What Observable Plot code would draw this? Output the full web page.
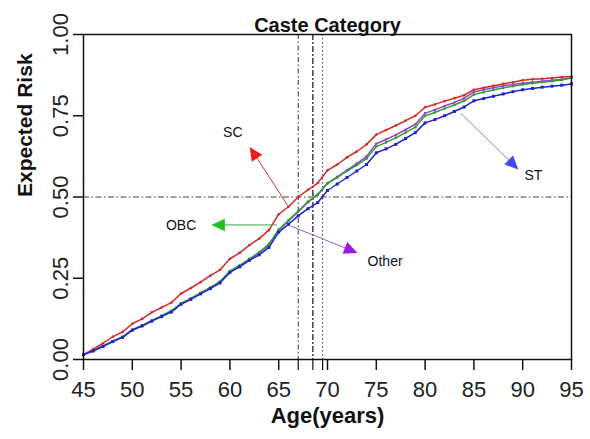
<!DOCTYPE html>
<html>
<head>
<meta charset="utf-8">
<script src="https://cdn.jsdelivr.net/npm/d3@7"></script>
<script src="https://cdn.jsdelivr.net/npm/@observablehq/plot@0.6"></script>
<style>
  body { margin: 0; background: #fff; }
</style>
</head>
<body>
<div id="chart"></div>
<script>
// Expected cumulative risk by age, one curve per caste category
const ages = d3.range(45, 96);
const sc = [0.015, 0.032, 0.050, 0.070, 0.085, 0.110, 0.125, 0.145, 0.160, 0.175,
            0.203, 0.220, 0.238, 0.258, 0.276, 0.310, 0.328, 0.352, 0.372, 0.398,
            0.447, 0.470, 0.500, 0.522, 0.543, 0.582, 0.600, 0.622, 0.640, 0.662,
            0.692, 0.706, 0.720, 0.735, 0.750, 0.776, 0.785, 0.795, 0.804, 0.813,
            0.830, 0.836, 0.842, 0.848, 0.853, 0.859, 0.862, 0.864, 0.866, 0.869, 0.871];
const obc = [0.015, 0.028, 0.042, 0.057, 0.070, 0.092, 0.105, 0.120, 0.135, 0.150,
             0.173, 0.188, 0.205, 0.222, 0.240, 0.272, 0.290, 0.310, 0.330, 0.355,
             0.400, 0.428, 0.457, 0.486, 0.508, 0.542, 0.560, 0.580, 0.598, 0.618,
             0.655, 0.668, 0.682, 0.698, 0.715, 0.750, 0.760, 0.772, 0.783, 0.796,
             0.815, 0.822, 0.829, 0.836, 0.841, 0.846, 0.850, 0.853, 0.856, 0.860, 0.866];
const other = [0.015, 0.027, 0.041, 0.056, 0.069, 0.091, 0.104, 0.119, 0.134, 0.149,
               0.172, 0.187, 0.204, 0.221, 0.239, 0.271, 0.288, 0.308, 0.328, 0.352,
               0.398, 0.426, 0.455, 0.484, 0.507, 0.543, 0.562, 0.583, 0.603, 0.625,
               0.664, 0.677, 0.691, 0.707, 0.724, 0.758, 0.768, 0.780, 0.791, 0.804,
               0.823, 0.830, 0.836, 0.842, 0.846, 0.850, 0.853, 0.856, 0.859, 0.862, 0.867];
const st = [0.015, 0.026, 0.040, 0.055, 0.068, 0.090, 0.103, 0.118, 0.132, 0.146,
            0.170, 0.185, 0.202, 0.218, 0.236, 0.268, 0.285, 0.305, 0.322, 0.345,
            0.392, 0.416, 0.442, 0.464, 0.483, 0.520, 0.540, 0.560, 0.580, 0.600,
            0.636, 0.648, 0.662, 0.680, 0.698, 0.728, 0.738, 0.750, 0.763, 0.777,
            0.796, 0.803, 0.810, 0.817, 0.824, 0.830, 0.834, 0.838, 0.841, 0.844, 0.848];

// Ages at which the curves reach a risk of 0.5
const crossAges = [67, 68.5, 69.5];
const crossDash = ["5,2.5,1.5,2.5", "6,2,2,2", "1.5,2.5"];
const crossWidth = [1, 1.4, 1];
const halfRisk = 0.5;

const xTicks = [45, 50, 55, 60, 65, 70, 75, 80, 85, 90, 95];
const yTicks = [0, 0.25, 0.5, 0.75, 1];

// Arrow annotations pointing from each curve to its name
const arrowNames = ["SC", "OBC", "Other", "ST"];
const arrowFrom = [[65.92, 0.474], [64.84, 0.414], [66.2, 0.411], [83.64, 0.758]];
const arrowTo = [[62.03, 0.654], [58.10, 0.414], [73.07, 0.328], [89.55, 0.585]];
const labelAt = [[60.3, 0.698], [55.0, 0.413], [75.9, 0.300], [91.1, 0.566]];

const seriesNames = ["Other", "OBC", "SC", "ST"];
const seriesValues = [other, obc, sc, st];
const lineColor = {SC: "#d42a2a", OBC: "#2e9e36", Other: "#9a42c8", ST: "#2222cc"};
const shaftColor = {SC: "#b83c3c", OBC: "#3aa53a", Other: "#a25cc8", ST: "#8a8ab0"};
const headColor = {SC: "#ee1c1c", OBC: "#1fc21f", Other: "#a016e6", ST: "#4646f2"};

const W = 590, H = 439, ML = 83, MR = 19, MT = 34, MB = 80;
const xs = Plot.scale({x: {domain: [45, 95], range: [ML, W - MR]}});
const ys = Plot.scale({y: {domain: [0, 1], range: [H - MB, MT]}});

const rows = seriesNames.flatMap((name, i) =>
  ages.map((age, j) => ({name, age, risk: seriesValues[i][j]})));

// Arrowheads: a narrow filled triangle with its tip 9px ahead of the origin
const TIP = 9;
const head = {
  draw(ctx) {
    ctx.moveTo(0, -TIP);
    ctx.lineTo(6.3, 4.5);
    ctx.lineTo(-6.3, 4.5);
    ctx.closePath();
  }
};
const arrows = arrowNames.map((name, i) => {
  const [x1, y1] = arrowFrom[i];
  const [x2, y2] = arrowTo[i];
  const px1 = xs.apply(x1), py1 = ys.apply(y1);
  const px2 = xs.apply(x2), py2 = ys.apply(y2);
  const len = Math.hypot(px2 - px1, py2 - py1);
  const ux = (px2 - px1) / len, uy = (py2 - py1) / len;
  const hx = px2 - ux * TIP, hy = py2 - uy * TIP;
  return {
    name, x1, y1,
    x2: xs.invert(hx), y2: ys.invert(hy),
    rotate: Math.atan2(uy, ux) * 180 / Math.PI + 90,
    lx: labelAt[i][0], ly: labelAt[i][1]
  };
});

const font = "'Liberation Sans', Arial, sans-serif";

const chart = Plot.plot({
  width: W,
  height: H,
  marginLeft: ML,
  marginRight: MR,
  marginTop: MT,
  marginBottom: MB,
  style: {fontFamily: font, background: "#fff", color: "#1a1a1a", overflow: "visible"},
  x: {domain: [45, 95]},
  y: {domain: [0, 1]},
  marks: [
    // reference lines at risk 0.5 and the ages where it is reached
    Plot.ruleY([halfRisk], {stroke: "#444", strokeWidth: 1.1, strokeDasharray: "6,2.5,1.5,2.5"}),
    ...crossAges.map((a, i) => Plot.ruleX([a], {
      stroke: "#333", strokeWidth: crossWidth[i], strokeDasharray: crossDash[i]
    })),

    // curves with a marker at every year
    Plot.line(rows, {x: "age", y: "risk", z: "name", stroke: d => lineColor[d.name], strokeWidth: 1.5}),
    Plot.dot(rows.filter(d => d.name !== "ST"), {x: "age", y: "risk", r: 1.3, fill: d => lineColor[d.name], stroke: "none"}),
    Plot.dot(rows.filter(d => d.name === "ST"), {x: "age", y: "risk", symbol: "square", r: 1.7, fill: lineColor.ST, stroke: "none"}),

    // annotations
    Plot.link(arrows, {x1: "x1", y1: "y1", x2: "x2", y2: "y2", stroke: d => shaftColor[d.name], strokeWidth: 1}),
    Plot.dot(arrows, {x: "x2", y: "y2", symbol: head, r: 5, rotate: "rotate", fill: d => headColor[d.name], stroke: "none"}),
    Plot.text(arrows, {x: "lx", y: "ly", text: "name", fontSize: 14, fill: "#111"}),

    // axes
    Plot.axisY(yTicks, {
      tickSize: 10, tickPadding: 6, tickRotate: -90, tickFormat: d3.format(".2f"),
      fontSize: 22, stroke: "#111", strokeWidth: 1.5, fill: "#222", label: null
    }),
    Plot.axisX(xTicks, {
      tickSize: 11, tickPadding: 11, tickFormat: d3.format("d"),
      fontSize: 22, stroke: "#111", strokeWidth: 1.5, fill: "#222", label: null
    }),
    Plot.axisX(crossAges, {tickSize: 11, tickFormat: () => "", stroke: "#111", strokeWidth: 1.2, label: null}),
    Plot.frame({stroke: "#111", strokeWidth: 1.5}),

    // titles
    Plot.text(["Caste Category"], {frameAnchor: "top", dy: -17, fontSize: 20, fontWeight: "bold", fill: "#111"}),
    Plot.text(["Age(years)"], {frameAnchor: "bottom", dy: 63, fontSize: 22, fontWeight: "bold", fill: "#111"}),
    Plot.text(["Expected Risk"], {frameAnchor: "left", dx: -58, rotate: -90, fontSize: 21, fontWeight: "bold", fill: "#111"})
  ]
});

document.getElementById("chart").appendChild(chart);
</script>
</body>
</html>
